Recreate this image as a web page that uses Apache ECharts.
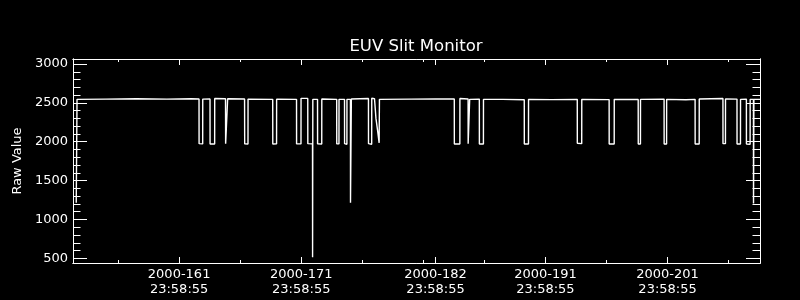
<!DOCTYPE html>
<html>
<head>
<meta charset="utf-8">
<script src="https://cdn.jsdelivr.net/npm/echarts@6/dist/echarts.min.js"></script>
<style>
html,body{margin:0;padding:0;background:#000;}
#chart{width:800px;height:300px;}
</style>
</head>
<body>
<div id="chart"></div>
<script>
// Time in day-of-year 2000 (label day at 23:58:55), raw values
var times = [
  152.575, 152.64, 155.0, 157.5, 160.0, 162.0, 162.63,
  162.636, 162.93, 162.935, 163.53,
  163.536, 163.91, 163.915, 164.80,
  164.81, 164.97, 164.975, 166.36,
  166.37, 166.64, 166.645, 168.665,
  168.67, 168.98, 168.985, 170.615,
  170.62, 170.98, 170.985, 171.535,
  171.54, 171.925, 171.93, 171.95, 172.335,
  172.34, 172.68, 172.685, 173.905,
  173.91, 174.09, 174.095, 174.545,
  174.55, 174.74, 174.745, 175.03,
  175.035, 175.10, 175.105, 176.505,
  176.51, 176.77, 176.775, 177.0,
  177.05, 177.12, 177.25, 177.38, 177.40, 177.405, 180.0, 182.0, 183.535,
  183.54, 183.99, 183.995, 184.665,
  184.67, 184.79, 184.795, 185.585,
  185.59, 185.92, 185.925, 187.5, 189.265,
  189.27, 189.61, 189.615, 191.5, 193.605,
  193.61, 193.97, 193.975, 196.215,
  196.22, 196.63, 196.635, 198.595,
  198.60, 198.78, 198.785, 200.715,
  200.72, 200.92, 200.925, 202.5, 203.255,
  203.26, 203.59, 203.595, 205.535,
  205.54, 205.74, 205.745, 206.685,
  206.69, 206.97, 206.975, 207.455,
  207.46, 207.76, 207.765, 208.035,
  208.04, 208.07, 208.57
];
var values = [
  1215, 2545, 2548, 2552, 2548, 2553, 2550,
  1975, 1972, 2548, 2550,
  1970, 1970, 2555, 2552,
  1975, 1968, 2553, 2550,
  1972, 1970, 2548, 2545,
  1970, 1972, 2547, 2545,
  1972, 1972, 2558, 2557,
  1975, 1972, 515, 2545, 2545,
  1972, 1970, 2550, 2545,
  1972, 1972, 2545, 2545,
  1975, 1968, 2545, 2545,
  1215, 1205, 2550, 2555,
  1975, 1968, 2560, 2555,
  2450, 2300, 2150, 1985, 1965, 2545, 2548, 2550, 2550,
  1970, 1970, 2555, 2550,
  1975, 1965, 2545, 2548,
  1970, 1970, 2545, 2545, 2540,
  1970, 1970, 2545, 2542, 2545,
  1980, 1975, 2545, 2542,
  1970, 1970, 2545, 2543,
  1970, 1970, 2545, 2548,
  1970, 1970, 2545, 2540, 2545,
  1970, 1970, 2550, 2555,
  1975, 1975, 2550, 2548,
  1970, 1970, 2545, 2548,
  1970, 1968, 2545, 2545,
  1205, 2545, 2545
];
var xTickDays = [161, 171, 182, 191, 201];
var xTickLabels = ['2000-161\n23:58:55', '2000-171\n23:58:55', '2000-182\n23:58:55', '2000-191\n23:58:55', '2000-201\n23:58:55'];
var xMinorDays = [156, 166, 176, 181, 186, 196, 206];
var yTicks = [500, 1000, 1500, 2000, 2500, 3000];
var yMinorTicks = [600, 700, 800, 900, 1100, 1200, 1300, 1400, 1600, 1700, 1800, 1900, 2100, 2200, 2300, 2400, 2600, 2700, 2800, 2900];
var titleText = 'EUV Slit Monitor';
var yName = 'Raw Value';

var X_MIN = 152.31, X_MAX = 208.57, Y_MIN = 440, Y_MAX = 3064;
var FONT = 'DejaVu Sans';
var W = '#ffffff';

function xAxisDef(pos, ticks, len, labels) {
  return {
    type: 'value', position: pos, min: X_MIN, max: X_MAX,
    axisLine: {show: true, onZero: false, lineStyle: {color: W, width: 1}},
    axisTick: {show: true, inside: true, length: len, customValues: ticks, lineStyle: {color: W, width: 1}},
    axisLabel: labels ? {
      show: true, customValues: ticks, color: W, fontFamily: FONT, fontSize: 13, lineHeight: 15, margin: 4,
      formatter: function (v) {
        var i = xTickDays.indexOf(Math.round(v));
        return i >= 0 ? xTickLabels[i] : '';
      }
    } : {show: false},
    splitLine: {show: false}
  };
}
function yAxisDef(pos, ticks, len, labels) {
  var a = {
    type: 'value', position: pos, min: Y_MIN, max: Y_MAX,
    axisLine: {show: true, onZero: false, lineStyle: {color: W, width: 1}},
    axisTick: {show: true, inside: true, length: len, customValues: ticks, lineStyle: {color: W, width: 1}},
    axisLabel: labels ? {
      show: true, customValues: ticks, color: W, fontFamily: FONT, fontSize: 13, margin: 5,
      formatter: function (v) { return String(v); }
    } : {show: false},
    splitLine: {show: false}
  };
  if (labels) {
    a.name = yName;
    a.nameLocation = 'middle';
    a.nameGap = 48;
    a.nameTextStyle = {color: W, fontFamily: FONT, fontSize: 13};
  }
  return a;
}

var chart = echarts.init(document.getElementById('chart'), null, {renderer: 'canvas'});
chart.setOption({
  backgroundColor: '#000',
  animation: false,
  title: {
    text: titleText, left: 416, top: 38, textAlign: 'center', padding: 0,
    textStyle: {color: W, fontFamily: FONT, fontSize: 16.5, fontWeight: 'normal'}
  },
  grid: {left: 73, right: 40, top: 59, bottom: 37, containLabel: false},
  xAxis: [
    xAxisDef('bottom', xTickDays, 6, true),
    xAxisDef('bottom', xMinorDays, 3, false),
    xAxisDef('top', xTickDays, 6, false),
    xAxisDef('top', xMinorDays, 3, false)
  ],
  yAxis: [
    yAxisDef('left', yTicks, 14, true),
    yAxisDef('left', yMinorTicks, 7.5, false),
    yAxisDef('right', yTicks, 14, false),
    yAxisDef('right', yMinorTicks, 7.5, false)
  ],
  series: [{
    type: 'line', xAxisIndex: 0, yAxisIndex: 0,
    data: times.map(function (t, i) { return [t, values[i]]; }),
    showSymbol: false, symbol: 'none',
    lineStyle: {color: W, width: 1.4},
    silent: true
  }]
});
</script>
</body>
</html>
